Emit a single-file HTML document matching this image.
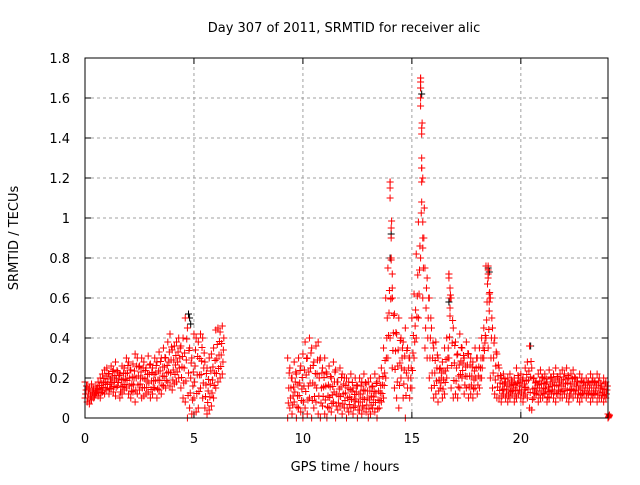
<!DOCTYPE html>
<html><head><meta charset="utf-8"><style>
html,body{margin:0;padding:0;background:#fff;}
svg text{font-family:"DejaVu Sans","Liberation Sans",sans-serif;font-size:13px;fill:#000;}
</style></head><body>
<svg id="chart" width="640" height="480" xmlns="http://www.w3.org/2000/svg">
<rect width="640" height="480" fill="#fff"/>
<text x="344" y="32" text-anchor="middle">Day 307 of 2011, SRMTID for receiver alic</text>
<text x="345" y="471" text-anchor="middle">GPS time / hours</text>
<text transform="translate(18,238) rotate(-90)" text-anchor="middle">SRMTID / TECUs</text>
<g id="grid"></g>
<g id="ticks"></g>
<g id="black"></g>
<g id="red"></g>
<rect x="85" y="58" width="523" height="360" fill="none" stroke="#000" stroke-width="1"/>
</svg>
<script>
const xTicks=[0,5,10,15,20];
const yTicks=[0,0.2,0.4,0.6,0.8,1,1.2,1.4,1.6,1.8];
const yTickLabels=["0","0.2","0.4","0.6","0.8","1","1.2","1.4","1.6","1.8"];
const seg1Start=0.0;
const seg1Hi=[0.18,0.16,0.15,0.17,0.14,0.16,0.18,0.2,0.22,0.24,0.25,0.22,0.26,0.24,0.28,0.23,0.22,0.26,0.25,0.3,0.28,0.24,0.27,0.32,0.3,0.26,0.3,0.28,0.25,0.31,0.27,0.25,0.3,0.28,0.33,0.3,0.35,0.3,0.38,0.42,0.34,0.36,0.38,0.4,0.36,0.4,0.5,0.45,0.35,0.3,0.42,0.4,0.38,0.42,0.4,0.28,0.25,0.3,0.32,0.35,0.44,0.45,0.43,0.46];
const seg1Lo=[0.1,0.08,0.07,0.09,0.1,0.12,0.11,0.1,0.13,0.12,0.14,0.12,0.15,0.13,0.11,0.16,0.1,0.12,0.14,0.15,0.12,0.1,0.13,0.08,0.12,0.14,0.1,0.11,0.12,0.13,0.1,0.12,0.15,0.1,0.14,0.12,0.16,0.15,0.18,0.16,0.14,0.17,0.18,0.2,0.15,0.1,0.08,0.0,0.05,0.02,0.1,0.03,0.05,0.15,0.1,0.05,0.02,0.04,0.06,0.1,0.15,0.18,0.2,0.22];
const seg2Start=9.3;
const seg2Hi=[0.3,0.25,0.2,0.28,0.22,0.3,0.26,
0.32,0.38,0.3,0.4,0.35,0.28,0.36,0.38,0.3,0.25,
0.3,0.22,0.26,0.2,0.28,0.24,0.18,0.25,0.22,0.2,
0.2,0.18,0.22,0.15,0.2,0.16,0.2,0.18,0.22,0.17,
0.18,0.2,0.16,0.22,0.18,0.2,0.25,0.35,0.6,0.75,
1.18,0.6,0.52,0.42,0.5,0.4,0.38,0.45,0.35,0.3,
0.5,0.62,0.82,0.98,1.7,1.2,0.75,0.7,0.6,0.45,
0.35,0.38,0.3,0.25,0.28,0.35,0.4,0.72,0.6,0.45,
0.38,0.32,0.42,0.35,0.3,0.38,0.32,0.3,0.28,0.35,
0.3,0.35,0.4,0.45,0.76,0.72,0.6,0.45,0.4,0.32,
0.25,0.2,0.22,0.18,0.2,0.22,0.18,0.2,0.25,0.2,
0.22,0.2,0.25,0.28,0.36,0.25,0.2,0.18,0.22,0.24,
0.2,0.22,0.18,0.24,0.2,0.22,0.25,0.2,0.22,0.24,
0.22,0.25,0.2,0.22,0.24,0.2,0.18,0.22,0.2,0.18,
0.2,0.18,0.22,0.2,0.18,0.22,0.2,0.16,0.2,0.18,
0.02];
const seg2Lo=[0.0,0.05,0.02,0.08,0.0,0.05,0.03,
0.0,0.05,0.02,0.1,0.0,0.05,0.08,0.02,0.0,0.06,
0.02,0.0,0.05,0.03,0.08,0.0,0.04,0.06,0.02,0.05,
0.0,0.03,0.05,0.02,0.06,0.0,0.04,0.02,0.05,0.03,
0.0,0.02,0.05,0.03,0.0,0.05,0.08,0.1,0.2,0.3,
0.4,0.25,0.15,0.1,0.05,0.2,0.1,0.0,0.15,0.1,
0.15,0.3,0.4,0.5,0.8,0.6,0.35,0.3,0.2,0.15,
0.1,0.12,0.08,0.15,0.1,0.12,0.2,0.3,0.15,0.1,
0.12,0.1,0.15,0.2,0.12,0.15,0.1,0.12,0.1,0.15,
0.12,0.15,0.2,0.3,0.4,0.35,0.2,0.15,0.12,0.1,
0.1,0.08,0.12,0.1,0.08,0.1,0.12,0.08,0.1,0.12,
0.1,0.08,0.12,0.1,0.05,0.04,0.1,0.12,0.08,0.1,
0.1,0.12,0.08,0.1,0.12,0.1,0.08,0.12,0.1,0.1,
0.12,0.1,0.08,0.12,0.1,0.12,0.1,0.08,0.1,0.12,
0.1,0.12,0.08,0.1,0.12,0.08,0.1,0.1,0.08,0.1,
0.0];
const spikeTimes=[14.0,14.0,14.0,14.05,14.05,14.05,14.1,14.1,14.1,15.4,15.4,15.4,15.4,15.4,15.45,15.45,15.45,15.45,15.45,15.45,15.5,15.5,15.5,16.7,16.7,16.75,16.75,16.75,18.5,18.5,18.5,18.55,18.55];
const spikeVals=[1.18,1.15,1.1,0.95,0.9,0.8,0.72,0.65,0.6,1.7,1.68,1.65,1.6,1.56,1.45,1.42,1.3,1.25,1.18,1.08,0.98,0.9,0.85,0.72,0.7,0.65,0.6,0.55,0.76,0.74,0.7,0.62,0.58];
const blackTimes=[4.75,4.8,4.85,14.0,14.05,15.4,15.45,18.5,18.55,20.45,16.7];
const blackVals=[0.52,0.5,0.47,0.8,0.92,1.65,1.62,0.75,0.73,0.36,0.58];

const NS="http://www.w3.org/2000/svg";
const X0=85,X1=608,Y0=418,Y1=58;
const xs=t=>X0+(t/24)*(X1-X0);
const ys=v=>Y0-(v/1.8)*(Y0-Y1);
function mk(tag,attrs,parent){const e=document.createElementNS(NS,tag);for(const k in attrs)e.setAttribute(k,attrs[k]);parent.appendChild(e);return e;}
const grid=document.getElementById('grid'),ticks=document.getElementById('ticks');
yTicks.forEach((v,i)=>{
  const y=ys(v);
  if(i>0&&i<yTicks.length-1){const g=mk('line',{x1:X0,x2:X1,y1:y,y2:y,stroke:'#a0a0a0','stroke-dasharray':'3,3'},grid);
  
  }
  const t=mk('text',{x:70,y:y+5,'text-anchor':'end'},ticks);t.textContent=yTickLabels[i];
  
  
  mk('line',{x1:X0,x2:X0+6,y1:y,y2:y,stroke:'#000'},ticks);
  mk('line',{x1:X1,x2:X1-6,y1:y,y2:y,stroke:'#000'},ticks);
});
xTicks.forEach(v=>{
  const x=xs(v);
  if(v>0){const g=mk('line',{x1:x,x2:x,y1:Y0,y2:Y1,stroke:'#a0a0a0','stroke-dasharray':'3,3'},grid);
  
  }
  const t=mk('text',{x:x,y:443,'text-anchor':'middle'},ticks);t.textContent=String(v);
  
  
  mk('line',{x1:x,x2:x,y1:Y0,y2:Y0-6,stroke:'#000'},ticks);
  mk('line',{x1:x,x2:x,y1:Y1,y2:Y1+6,stroke:'#000'},ticks);
});
function plus(t,v,color,parent){
  const x=xs(t),y=ys(v);
  const p=mk('path',{d:`M${x-3.5},${y}h7M${x},${y-3.5}v7`,stroke:color,'stroke-width':1,fill:'none'},parent);
  
  
}
const black=document.getElementById('black'),red=document.getElementById('red');
blackTimes.forEach((t,i)=>plus(t,blackVals[i],'#000',black));
function drawSeg(start,hi,lo){
  hi.forEach((h,i)=>{
    const t=start+i*0.1,l=lo[i];
    plus(t,h,'#f00',red);
    plus(t,l,'#f00',red);
    plus(t+0.05,(h+l)/2,'#f00',red);
    plus(t+0.03,l+(h-l)*0.25,'#f00',red);
    plus(t+0.07,l+(h-l)*0.75,'#f00',red);
  });
}
drawSeg(seg1Start,seg1Hi,seg1Lo);
drawSeg(seg2Start,seg2Hi,seg2Lo);
spikeTimes.forEach((t,i)=>plus(t,spikeVals[i],'#f00',red));
</script>
</body></html>
